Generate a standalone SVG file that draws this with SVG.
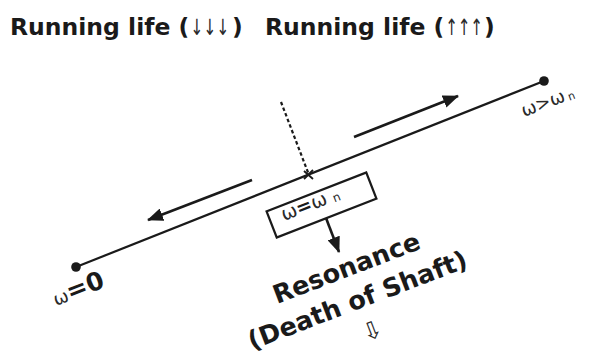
<svg xmlns="http://www.w3.org/2000/svg" width="589" height="356" viewBox="0 0 589 356">
<defs>
<style>
.t{font-family:"DejaVu Sans",Verdana,sans-serif;font-weight:bold;fill:#1a1a1a}
.w{font-family:"DejaVu Sans",sans-serif;font-weight:normal;fill:#2a2a2a}
.ln{stroke:#1a1a1a;stroke-width:2.2;fill:none}
.ar{stroke:#1a1a1a;stroke-width:2.6;fill:none}
</style>
<marker id="ah" markerUnits="userSpaceOnUse" markerWidth="16" markerHeight="13" refX="15" refY="6.5" orient="auto"><path d="M0,0 L16,6.5 L0,13 z" fill="#1a1a1a"/></marker>
</defs>
<rect width="589" height="356" fill="#fff"/>
<g id="title-left">
<text class="t" x="10" y="35" font-size="23.5">Running life (</text>
<text class="w" x="0" y="0" font-size="15.5" transform="translate(190.5 35) scale(1 1.45)">↓↓↓</text>
<text class="t" x="232" y="35" font-size="23.5">)</text>
</g>
<g id="title-right">
<text class="t" x="265" y="35" font-size="23.5">Running life (</text>
<text class="w" x="0" y="0" font-size="15" transform="translate(445.5 35) scale(1 1.5)">↑↑↑</text>
<text class="t" x="484" y="35" font-size="23.5">)</text>
</g>
<g id="shaft">
<line class="ln" x1="76" y1="267" x2="544" y2="81"/>
<circle cx="76" cy="267" r="4.8" fill="#1a1a1a"/>
<circle cx="544" cy="81" r="4.8" fill="#1a1a1a"/>
</g>
<g id="label-zero"><text class="t" x="56" y="306" font-size="25" transform="rotate(-21 56 306)"><tspan class="w" font-size="18">ω</tspan>=0</text></g>
<g id="label-greater"><text class="w" x="524" y="117" font-size="18" transform="rotate(-21 524 117)">ω&gt;ω<tspan font-size="11" dx="3" dy="1">n</tspan></text></g>
<g id="connectors">
<line class="ar" x1="354" y1="137" x2="458" y2="96" marker-end="url(#ah)"/>
<line class="ar" x1="252" y1="180" x2="148" y2="220" marker-end="url(#ah)"/>
<line x1="281" y1="102" x2="309" y2="175" stroke="#1a1a1a" stroke-width="2.2" stroke-dasharray="3.5,2.5"/>
<path d="M304,171 L313,179 M313,170 L304,179" stroke="#1a1a1a" stroke-width="1.8"/>
<line class="ar" x1="326" y1="218" x2="339" y2="252" marker-end="url(#ah)"/>
</g>
<g id="box-resonance-condition">
<rect x="268" y="191" width="107" height="28" transform="rotate(-21.3 321.5 205)" fill="#fff" stroke="#1a1a1a" stroke-width="2.2"/>
<text class="w" x="284" y="221" font-size="19" transform="rotate(-21.3 284 221)">ω<tspan class="t">=</tspan>ω<tspan font-size="12" dx="6" dy="1">n</tspan></text>
</g>
<g id="label-resonance">
<text class="t" x="277" y="304" font-size="25.5" transform="rotate(-21 277 304)">Resonance</text>
<text class="t" x="252" y="350" font-size="25.5" transform="rotate(-21 252 350)">(Death of Shaft)</text>
<text class="w" x="372" y="339" font-size="24" text-anchor="middle" transform="rotate(-21 372 330)">⇩</text>
</g>
</svg>
